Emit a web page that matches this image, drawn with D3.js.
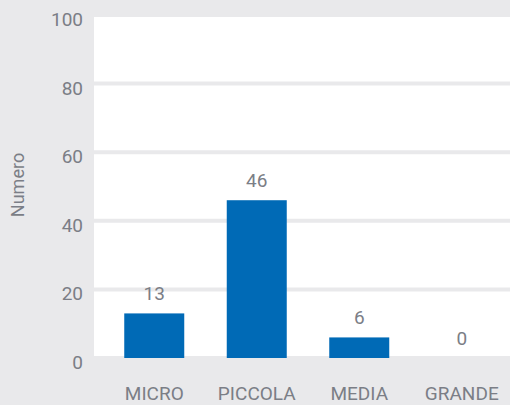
<!DOCTYPE html>
<html><head><meta charset="utf-8">
<script src="https://cdn.jsdelivr.net/npm/d3@7"></script>
<style>html,body{margin:0;padding:0;background:#e9e9eb;}svg{display:block;}</style>
</head><body>
<svg id="chart" width="510" height="405"></svg>
<script>
const categories = ["MICRO", "PICCOLA", "MEDIA", "GRANDE"];
const values = [13, 46, 6, 0];
const yTicks = [0, 20, 40, 60, 80, 100];
const yTitle = "Numero";

const W = 510, H = 405;
const svg = d3.select("#chart");
const bg = "#e9e9eb", textCol = "#7b7e86", barCol = "#006ab6";
const font = "Roboto, 'Noto Sans', sans-serif";

svg.append("rect").attr("width", W).attr("height", H).attr("fill", bg);

const y = d3.scaleLinear().domain([0, 100]).range([358, 15]);
const x = d3.scalePoint().domain(categories).range([103, 513]).padding(0.5);
const plotL = 94, plotR = 510;

svg.append("rect").attr("x", plotL).attr("y", y(100)).attr("width", plotR - plotL)
  .attr("height", y(0) - y(100)).attr("fill", "#fff");

svg.selectAll("line.grid").data(yTicks).enter().append("line")
  .attr("x1", plotL).attr("x2", plotR)
  .attr("y1", d => y(d)).attr("y2", d => y(d))
  .attr("stroke", bg).attr("stroke-width", 4);

svg.selectAll("text.ytick").data(yTicks).enter().append("text")
  .attr("x", 83).attr("y", d => y(d) + 11)
  .attr("text-anchor", "end").attr("fill", textCol)
  .attr("font-family", font).attr("font-size", 19)
  .text(d => d);

svg.append("text")
  .attr("transform", "translate(24,185) rotate(-90)")
  .attr("text-anchor", "middle").attr("fill", textCol)
  .attr("font-family", font).attr("font-size", 18)
  .text(yTitle);

const bw = 60;
svg.selectAll("rect.bar").data(values).enter().append("rect")
  .attr("x", (d, i) => x(categories[i]) - bw / 2)
  .attr("y", d => y(d)).attr("width", bw)
  .attr("height", d => y(0) - y(d)).attr("fill", barCol);

svg.selectAll("text.val").data(values).enter().append("text")
  .attr("x", (d, i) => x(categories[i])).attr("y", d => y(d) - 13)
  .attr("text-anchor", "middle").attr("fill", textCol)
  .attr("font-family", font).attr("font-size", 19)
  .text(d => d);

svg.selectAll("text.cat").data(categories).enter().append("text")
  .attr("x", d => x(d)).attr("y", 400)
  .attr("text-anchor", "middle").attr("fill", textCol)
  .attr("font-family", font).attr("font-size", 19)
  .text(d => d);
</script>
</body></html>
